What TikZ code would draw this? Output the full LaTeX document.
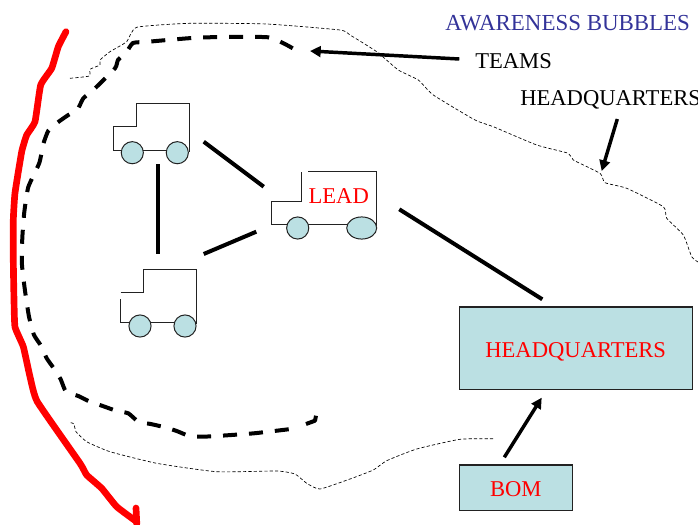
\documentclass[tikz,border=0pt]{standalone}
\usepackage{fontspec}
\setmainfont{Liberation Serif}
\usetikzlibrary{arrows.meta,shapes.geometric}
\definecolor{paleteal}{HTML}{BBE0E3}
\definecolor{bubbleblue}{HTML}{333399}
\definecolor{edgegrey}{HTML}{222222}
\tikzset{
  lbl/.style={inner sep=0pt,font=\fontsize{16.95}{20}\selectfont},
  wheel/.style={circle,draw=edgegrey,fill=paleteal,line width=0.75pt,minimum size=16.6pt,inner sep=0pt},
  bigwheel/.style={ellipse,draw=edgegrey,fill=paleteal,line width=0.75pt,minimum width=22.5pt,minimum height=16.6pt,inner sep=0pt},
  truck/.style={draw=edgegrey,line width=0.75pt},
  box/.style={draw=edgegrey,fill=paleteal,line width=0.9pt,inner sep=0pt},
  link/.style={line width=3pt},
  pointer/.style={line width=2.6pt,-{Triangle[length=8pt,width=8pt]}},
  bubble/.style={line width=0.5pt,dash pattern=on 2.4pt off 1.6pt},
  team/.style={line width=3pt,dash pattern=on 10.5pt off 9pt},
  redline/.style={red,line width=5pt,line join=round,line cap=round},
}
\begin{document}
\begin{tikzpicture}[x=0.75pt,y=-0.75pt]
\useasboundingbox (0,0) rectangle (698,524);

% awareness bubble, upper and lower
\draw[bubble] plot[smooth,tension=0.3] coordinates {(70,78.3)(89.3,76)(90,69.3)(100,65)(100,60)(110,51.7)(126.7,41.7)(136.7,27.3)(190,23.3)(266.7,24)(340,30)(350,35)(376.7,51.7)(398.3,70)(418.3,80)(433.3,95)(475,120)(493.3,126.7)(536.7,145)(568.3,153.3)(573.3,160)(600,173.3)(605,182.7)(626.7,188.3)(663.3,206.7)(666.7,218.3)(683.3,235)(691.7,256.7)(698,262)};
\draw[bubble] plot[smooth,tension=0.3] coordinates {(70.7,422.7)(74,424)(76,431.7)(86.7,441.7)(110,451.7)(156.7,463.3)(216.7,471.7)(276.7,471)(295,474)(306.7,483.3)(320,489)(350,479)(373.3,470)(386.7,460.7)(416.7,449)(460,439.3)(493.3,438.7)};

% team bubble
\draw[team] plot[smooth,tension=0.3] coordinates {(292.7,48.3)(268,37.3)(200,37.5)(148.3,41.7)(133,43)(126.7,51.7)(118,60)(115,68.3)(93.3,90)(83.3,98.3)(77.3,110)(68.3,115)(57.3,122.7)(48.3,130.7)(43.3,144)(39.3,163)(28.3,187)(24.3,212)(22.3,238)(22,265)(25,290.7)(29,316.7)(34,335)(41.7,346.7)(46.7,358.3)(55,370)(60.7,379.3)(66,391.7)(78.3,396)(90,401.7)(102.7,406)(116,410.7)(128.3,413.3)(138.3,421.7)(150.7,424)(165,427.3)(176.7,431)(189.3,436)(201.7,436.7)(216.7,436)(254,433.3)(293.3,428.7)};
\draw[line width=3pt,line join=round] (306,424) -- (315,420.7) -- (316,415.7);

% red boundary
\draw[redline] plot[smooth,tension=0.25] coordinates {(66,31.7)(58.3,46.7)(51.7,68.3)(40.7,85)(35,121.7)(26.7,135)(21.7,151.7)(15,193)(13.3,220)(13.3,260)(14,300)(15,327)(23.3,346.7)(30,376.7)(37.3,401.7)(80,463.3)(86.7,475)(101.7,488.3)(116.7,506.7)(136.7,521.7)};
\draw[redline] (136,508) -- (136.8,524);

% truck 1
\draw[truck] (132.3,150) -- (113,150) -- (113,127) -- (136,127) -- (136,104) -- (189,104) -- (189,152) (132.3,150) -- (177.3,150);
\node[wheel] (w1a) at (132.3,152.7) {};
\node[wheel] (w1b) at (177.3,152.7) {};

% truck 2
\draw[truck] (120.7,292) -- (143.3,292) -- (143.3,269.3) -- (196.3,269.3) -- (196.3,324) (120.7,299.3) -- (120.7,322) -- (185,322);
\node[wheel] (w2a) at (140,326) {};
\node[wheel] (w2b) at (185,326) {};

% lead truck
\draw[truck] (361.7,224.3) -- (271.3,224.3) -- (271.3,201.7) -- (301.7,201.7) -- (301.7,171.7) (308.3,171.7) -- (376.7,171.7) -- (376.7,226);
\node[wheel] (w3a) at (297.7,228) {};
\node[bigwheel] (w3b) at (361.7,228) {};
\node[lbl,text=red,anchor=base] (lead) at (338.7,203.6) {LEAD};

% boxes
\node[box,minimum width=175pt,minimum height=62pt] (hq) at (576.2,348.4) {};
\node[lbl,text=red,anchor=base] (hqt) at (575.7,357.6) {HEADQUARTERS};
\node[box,minimum width=84.7pt,minimum height=34pt] (bom) at (515.8,487.7) {};
\node[lbl,text=red,anchor=base] (bomt) at (515.8,496) {BOM};

% free ends of connectors
\coordinate (a1) at (203.7,141.7); \coordinate (a2) at (263.7,186.7);
\coordinate (b1) at (158.3,164.3); \coordinate (b2) at (158.3,254);
\coordinate (c1) at (203.7,254);   \coordinate (c2) at (256.3,231.7);
\coordinate (d1) at (399.3,209.3); \coordinate (d2) at (542.3,299.3);
\coordinate (e1) at (504.3,457.3); \coordinate (e2) at (541.7,397.7);
\coordinate (f1) at (459.3,59);    \coordinate (f2) at (310,51);
\coordinate (g1) at (617.3,119);   \coordinate (g2) at (601.7,171);

\draw[link] (a1) -- (a2);
\draw[link] (b1) -- (b2);
\draw[link] (c1) -- (c2);
\draw[link] (d1) -- (d2);
\draw[pointer] (e1) -- (e2);
\draw[pointer] (f1) -- (f2);
\draw[pointer] (g1) -- (g2);

% captions
\node[lbl,text=bubbleblue,anchor=base west,font=\fontsize{17.2}{20}\selectfont] (title) at (445,30.6) {AWARENESS BUBBLES};
\node[lbl,anchor=base west] (teams) at (475,68.6) {TEAMS};
\node[lbl,anchor=base west] (hqcap) at (520,105.6) {HEADQUARTERS};
\end{tikzpicture}
\end{document}
